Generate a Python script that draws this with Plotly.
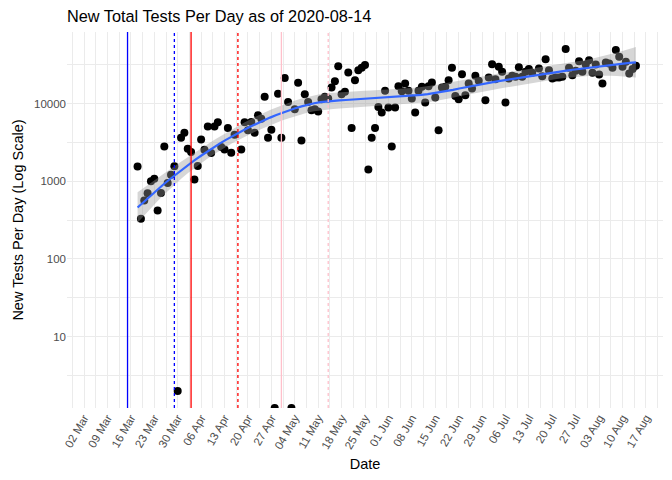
import numpy as np
import pandas as pd
import plotly.graph_objects as go

# ---------------- data ----------------
start_date = "2020-03-05"
end_date = "2020-08-14"
nan = float("nan")
# new total tests per day (NaN = missing, 0 = zero tests reported)
new_tests = (
    [nan] * 13 +                                   # Mar 05 - Mar 17
    [1550, 330, 565, 705, 1000, 1080, 420, 710, 2820, 950,      # Mar 18 - Mar 27
     1220, 1570, 2, 3650, 4240, 2630, 2380, 1055, 1575, 3470,   # Mar 28 - Apr 06
     2550, 5100, 2310, 5100, 5750, 2770, 2580, 4870, 2330, 3990,  # Apr 07 - Apr 16
     nan, 2580, 5750, 4540, 5820, 4240, 7080, 6420, 12250, 3650,  # Apr 17 - Apr 26
     4620, 0, 13400, 3650, 21500, 10550, 0, 8470, 18600, 3370,    # Apr 27 - May 06
     13250, 10550, 8220, 8470, 7960, 11400, 12250, 11650, 16150, 19500,  # May 07 - May 16
     30400, 13250, 14200, 25200, 4870, 20100, 27000, 29000, 31400, 1420,  # May 17 - May 26
     3650, 4870, 9100, 7680, 14650, 8910, 2820, 8910, 16800, 14450,      # May 27 - Jun 05
     18200, 14650, 11650, 7680, 14650, 16500, 10400, 16800, 18750, 12000,  # Jun 06 - Jun 15
     4540, 16150, 16500, 20100, 29000, 12600, 11400, 24000, 12850, 18200,  # Jun 16 - Jun 25
     15700, 22900, 19700, nan, 11070, 21700, 32300, 20650, 29850, 25750,   # Jun 26 - Jul 05
     10330, 21100, 22900, 22200, 29500, 22200, 25750, 27900, 25000, nan,   # Jul 06 - Jul 15
     28400, 22600, 37500, 27000, 21100, 21700, 21700, 22200, 50500, 29000,  # Jul 16 - Jul 25
     23300, 26500, 35300, 25750, 32000, 36400, 25000, 32000, 23800, 18200,  # Jul 26 - Aug 04
     34000, 33000, 29000, 49000, 40300, 29850, 34700, 24500, 27900, 30800]  # Aug 05 - Aug 14
)
week_tick_start = "2020-03-02"
event_dates = ["2020-03-15", "2020-03-29", "2020-04-03", "2020-04-17", "2020-04-30", "2020-05-14"]
event_colors = ["#0000FF", "#0000FF", "#FF0000", "#FF0000", "#FFC0CB", "#FFC0CB"]
event_dashes = ["solid", "dot", "solid", "dot", "solid", "dot"]
y_tick_vals = [10, 100, 1000, 10000]
y_tick_text = ["10", "100", "1000", "10000"]
title_text = "New Total Tests Per Day as of 2020-08-14"

# ---------------- prep ----------------
dates = pd.date_range(start_date, end_date, freq="D")
vals = np.array(new_tests, dtype=float)
t0 = pd.Timestamp(week_tick_start)
days = (dates - t0).days.values.astype(float)

pos = np.isfinite(vals) & (vals > 0)
zero = np.isfinite(vals) & (vals == 0)
xpos = days[pos]
ylog = np.log10(vals[pos])

# scale limits like ggplot (5% expansion)
xmin, xmax = days.min(), days.max()
xpad = 0.05 * (xmax - xmin)
x_range = [t0 + pd.Timedelta(days=xmin - xpad), t0 + pd.Timedelta(days=xmax + xpad)]
ymin_l, ymax_l = ylog.min(), ylog.max()
ypad = 0.05 * (ymax_l - ymin_l)
y_range = [ymin_l - ypad, ymax_l + ypad]


# ---------------- loess smoother (span .75, degree 2) ----------------
def loess_rows(x, grid, span=0.75):
    n = len(x)
    q = int(np.floor(n * span))
    rows = []
    for x0 in grid:
        d = np.abs(x - x0)
        h = np.sort(d)[q - 1] * 1.0000001
        w = np.clip(1 - (d / h) ** 3, 0, None) ** 3
        X = np.column_stack([np.ones(n), x - x0, (x - x0) ** 2])
        XtW = X.T * w
        rows.append(np.linalg.solve(XtW @ X, XtW)[0])
    return np.array(rows)


L = loess_rows(xpos, xpos)
res = ylog - L @ ylog
M = (np.eye(len(xpos)) - L).T @ (np.eye(len(xpos)) - L)
d1 = np.trace(M)
d2 = np.trace(M @ M)
sigma = np.sqrt(res @ res / d1)
df = d1 ** 2 / d2
z = 1.959964
tq = z + (z ** 3 + z) / (4 * df)

grid = np.linspace(xpos.min(), xpos.max(), 80)
Lg = loess_rows(xpos, grid)
fit = Lg @ ylog
se = sigma * np.sqrt((Lg ** 2).sum(axis=1))
grid_dates = t0 + pd.to_timedelta(grid, unit="D")

# ---------------- figure ----------------
fig = go.Figure()
fig.add_trace(go.Scatter(
    x=dates[pos], y=vals[pos], mode="markers",
    marker=dict(color="black", size=8), showlegend=False, hoverinfo="x+y"))
# zero values sit on the bottom edge of the panel (log10(0) = -Inf)
fig.add_trace(go.Scatter(
    x=dates[zero], y=np.full(zero.sum(), 10 ** y_range[0]), mode="markers",
    marker=dict(color="black", size=8), showlegend=False, cliponaxis=True))
fig.add_trace(go.Scatter(
    x=grid_dates, y=10 ** (fit - tq * se), mode="lines",
    line=dict(width=0), showlegend=False, hoverinfo="skip"))
fig.add_trace(go.Scatter(
    x=grid_dates, y=10 ** (fit + tq * se), mode="lines",
    line=dict(width=0), fill="tonexty", fillcolor="rgba(153,153,153,0.4)",
    showlegend=False, hoverinfo="skip"))
fig.add_trace(go.Scatter(
    x=grid_dates, y=10 ** fit, mode="lines",
    line=dict(color="#3366FF", width=2.2), showlegend=False))

for d, c, s in zip(event_dates, event_colors, event_dashes):
    fig.add_shape(type="line", xref="x", yref="paper", x0=d, x1=d, y0=0, y1=1,
                  line=dict(color=c, width=1.3, dash=s), layer="above")

grid_col = "#EBEBEB"
fig.update_layout(
    width=672, height=480, autosize=False,
    margin=dict(l=67, r=9, t=32, b=72),
    paper_bgcolor="white", plot_bgcolor="white",
    font=dict(family="Liberation Sans, Arial, sans-serif", color="black"),
    title=dict(text=title_text, x=67 / 672, xanchor="left", xref="container",
               y=1 - 16 / 480, yanchor="middle", yref="container",
               font=dict(size=16.3, color="black")),
    xaxis=dict(
        type="date", range=x_range, tick0=week_tick_start, dtick=7 * 86400000,
        tickformat="%d %b", tickangle=-60, ticks="",
        tickfont=dict(size=11.5, color="#4D4D4D"),
        showgrid=True, gridcolor=grid_col, gridwidth=1, zeroline=False, showline=False,
        minor=dict(dtick=3.5 * 86400000, tick0=week_tick_start, showgrid=True,
                   gridcolor=grid_col, gridwidth=1),
        title=dict(text="Date", font=dict(size=14.5, color="black"), standoff=8),
    ),
    yaxis=dict(
        type="log", range=y_range, tickmode="array", tickvals=y_tick_vals,
        ticktext=y_tick_text, ticks="",
        tickfont=dict(size=11.5, color="#4D4D4D"),
        showgrid=True, gridcolor=grid_col, gridwidth=1, zeroline=False, showline=False,
        minor=dict(tickmode="array", tickvals=[10 ** (k + 0.5) for k in range(-1, 5)],
                   showgrid=True, gridcolor=grid_col, gridwidth=1),
        title=dict(text="New Tests Per Day (Log Scale)", font=dict(size=14.5, color="black"),
                   standoff=6),
    ),
)

fig.write_html("out.html", config={"displayModeBar": False},
               post_script="document.body.style.margin='0';")
